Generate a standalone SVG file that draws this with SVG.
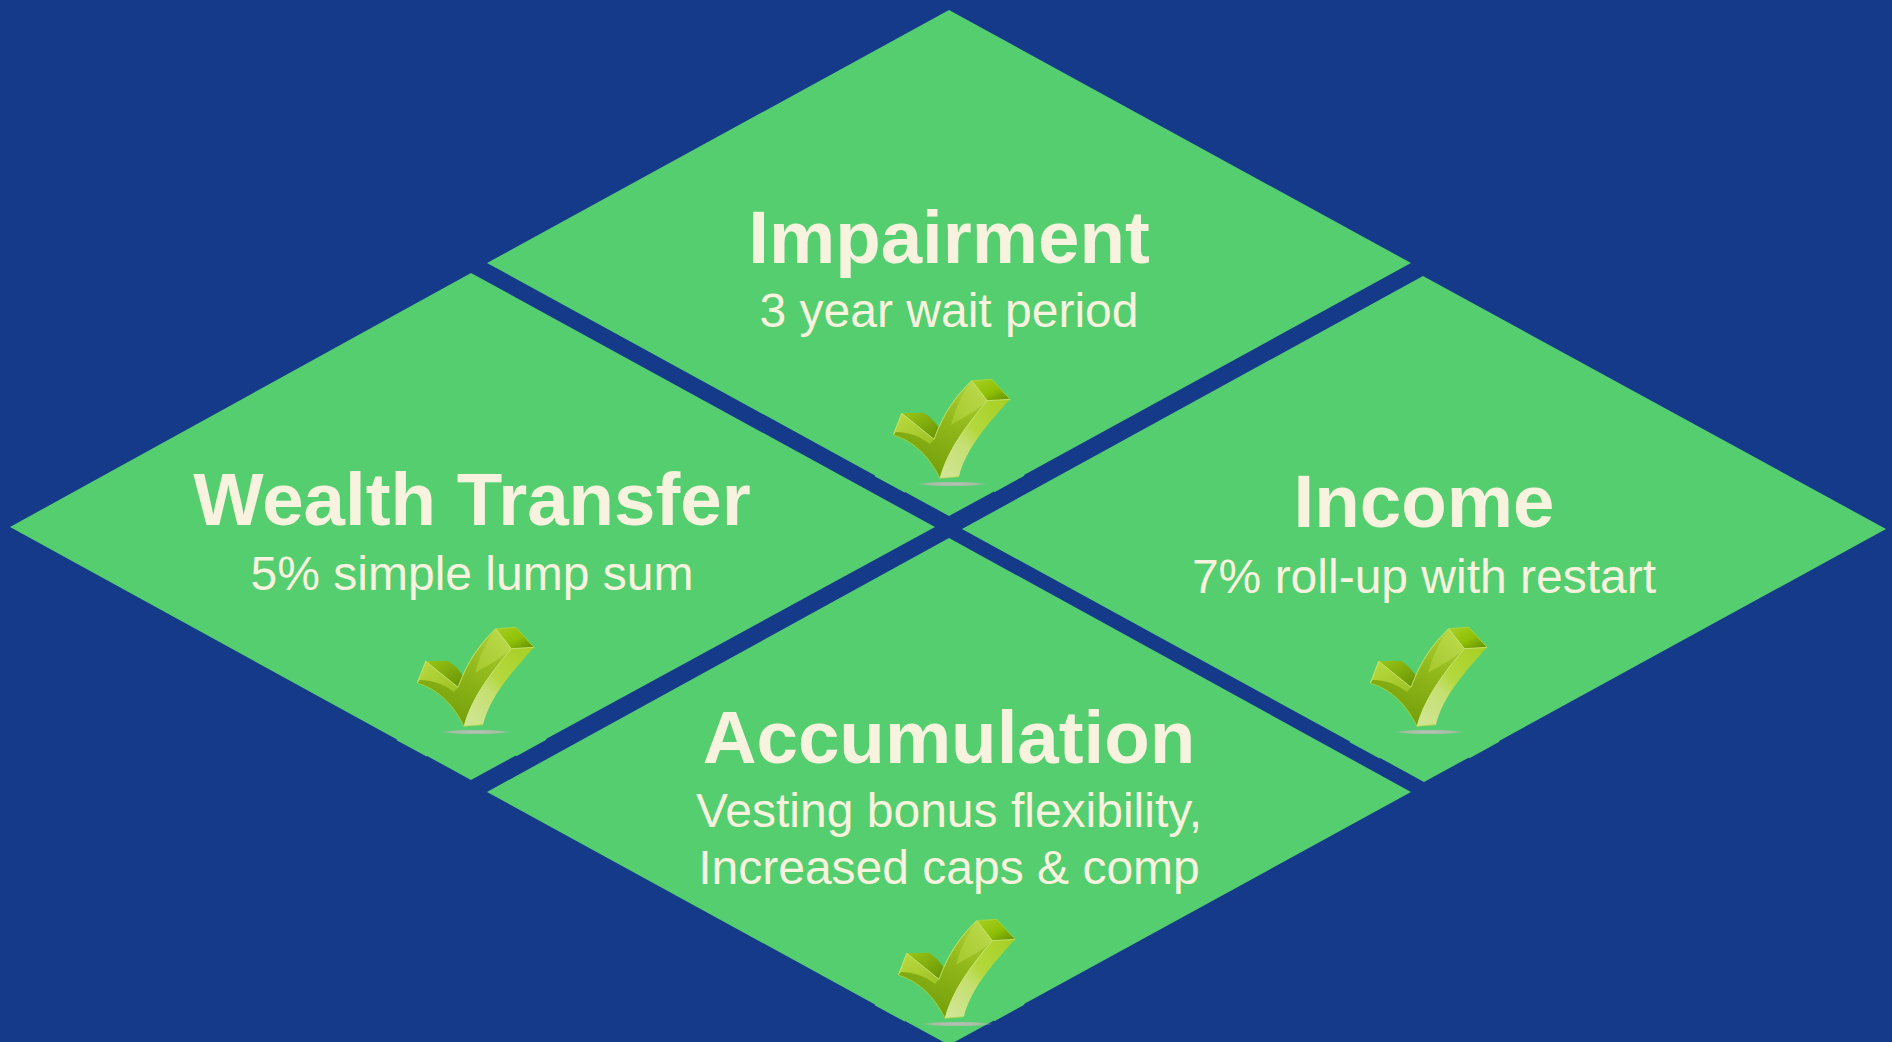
<svg xmlns="http://www.w3.org/2000/svg" xmlns:xlink="http://www.w3.org/1999/xlink" width="1892" height="1042" viewBox="0 0 1892 1042">
<style>
.d{fill:#55ce70}
text{font-family:"Liberation Sans",Arial,sans-serif;fill:#f8f3df;text-anchor:middle}
.t{font-size:74.500px;font-weight:700}
.s{font-size:48px}
</style>
<defs>
<linearGradient id="gMid" x1="0.8" y1="0" x2="0.4" y2="1"><stop offset="0" stop-color="#b0d036"/><stop offset="0.4" stop-color="#93ba1c"/><stop offset="1" stop-color="#739e0a"/></linearGradient>
<linearGradient id="gShort" x1="0" y1="0" x2="1" y2="1"><stop offset="0" stop-color="#bcdb42"/><stop offset="1" stop-color="#9cc224"/></linearGradient>
<linearGradient id="gGlare" x1="1" y1="0" x2="0" y2="1"><stop offset="0" stop-color="#bedc50"/><stop offset="1" stop-color="#a4c82c"/></linearGradient>
<linearGradient id="gLight" x1="1" y1="0" x2="0" y2="1"><stop offset="0" stop-color="#a6cf22"/><stop offset="0.45" stop-color="#b4d83e"/><stop offset="0.6" stop-color="#c4df70"/><stop offset="1" stop-color="#d2e69a"/></linearGradient>
<linearGradient id="gTop" x1="0" y1="0" x2="1" y2="1"><stop offset="0" stop-color="#a9d024"/><stop offset="0.55" stop-color="#8fc005"/><stop offset="1" stop-color="#5f8c04"/></linearGradient>
<linearGradient id="gTopS" x1="0" y1="0" x2="1" y2="1"><stop offset="0" stop-color="#9cc616"/><stop offset="1" stop-color="#659204"/></linearGradient>
<radialGradient id="gSh"><stop offset="0" stop-color="#bcc0b8"/><stop offset="0.7" stop-color="#b4bcb0" stop-opacity="0.8"/><stop offset="1" stop-color="#a8b0a0" stop-opacity="0"/></radialGradient>
<symbol id="check" viewBox="0 0 180 140" width="180" height="140" overflow="visible">
<ellipse cx="92" cy="124" rx="36" ry="2.500" fill="url(#gSh)"/>
<path d="M41.700 53.300 63.300 52.700C70 56 75 62 79.300 68.300L74 79.300Z" fill="url(#gTopS)"/>
<path d="M111.700 20.700 131.700 19.300 150 39.300 127.300 40.700Z" fill="url(#gTop)"/>
<path d="M33.300 75 41.700 53.300 74 79.300C84 52 96 36 111.700 20.700L127.300 40.700C106 66 88 90 80 118.300 70 98 56 82 33.300 75Z" fill="url(#gMid)"/>
<path d="M33.300 75 41.700 53.300 74 79.300 70 84C60 76 48 72 36 72Z" fill="url(#gShort)"/>
<path d="M111.700 20.700 127.300 40.700C118 50 106 56 91 65 96 47 103 32 111.700 20.700Z" fill="url(#gGlare)"/>
<path d="M127.300 40.700 150 39.300C128 64 106 88 99 116.700L80 118.300C87 90 106 66 127.300 40.700Z" fill="url(#gLight)"/>
<path d="M33.300 75 41.700 53.300 74 79.300C84 52 96 36 111.700 20.700L127.300 40.700 150 39.300M127.300 40.700C106 66 88 90 80 118.300" fill="none" stroke="#d3e87a" stroke-width="0.800"/>
<path d="M33.300 75C56 82 70 98 80 118.300L99 116.700M150 39.300 131.700 19.300 111.700 20.700" fill="none" stroke="#b6d83a" stroke-width="0.700"/>
</symbol>
</defs>
<rect id="background" width="1892" height="1042" fill="#153a8a"/>
<g id="connectors"/>
<g id="node-impairment">
<polygon class="d" points="949,10 1411,263 1024,475 1024.400,475.700 994.400,492.200 994,491.400 949,516 905,491.900 904.600,492.600 874.600,476.200 875,475.500 487,263"/>
<text class="t" x="949" y="263">Impairment</text>
<text class="s" x="949" y="327">3 year wait period</text>
<use xlink:href="#check" href="#check" x="860" y="360"/>
</g>
<g id="node-wealth-transfer">
<polygon class="d" points="471,273 935,527 546,739 546.400,739.700 516.400,756.200 516,755.400 471,780 427,755.900 426.600,756.600 396.600,740.200 397,739.500 10,527"/>
<text class="t" x="472" y="525">Wealth Transfer</text>
<text class="s" x="472" y="590">5% simple lump sum</text>
<use xlink:href="#check" href="#check" x="384" y="608"/>
</g>
<g id="node-income">
<polygon class="d" points="1423,276 1886,529 1499,741 1499.400,741.700 1469.400,758.200 1469,757.400 1424,782 1380,757.900 1379.600,758.600 1349.600,742.200 1350,741.500 962,529"/>
<text class="t" x="1424" y="527">Income</text>
<text class="s" x="1424" y="593">7% roll-up with restart</text>
<use xlink:href="#check" href="#check" x="1337" y="608"/>
</g>
<g id="node-accumulation">
<polygon class="d" points="949,538 1411,792 1024,1004 1024.400,1004.700 994.400,1021.200 994,1020.400 949,1045 905,1020.900 904.600,1021.600 874.600,1005.200 875,1004.500 487,792"/>
<text class="t" x="949" y="763">Accumulation</text>
<text class="s" x="949" y="827">Vesting bonus flexibility,</text>
<text class="s" x="949" y="884">Increased caps &amp; comp</text>
<use xlink:href="#check" href="#check" x="865" y="900"/>
</g>
</svg>
